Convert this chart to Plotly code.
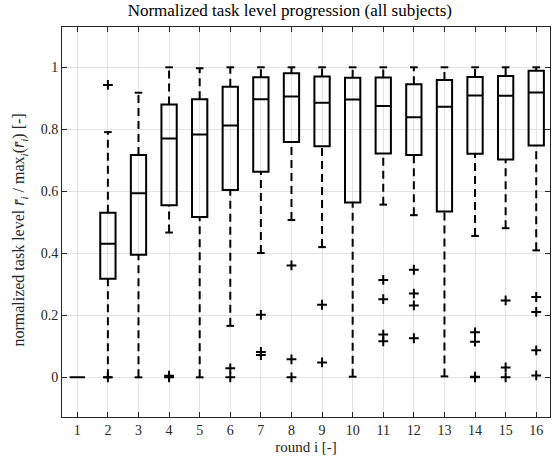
import plotly.graph_objects as go

rounds = list(range(1, 17))
q1 = [0.0, 0.318, 0.395, 0.555, 0.517, 0.6045, 0.663, 0.759, 0.745, 0.564, 0.722, 0.717, 0.5345, 0.721, 0.703, 0.748]
median = [0.0, 0.431, 0.594, 0.770, 0.783, 0.8125, 0.897, 0.906, 0.886, 0.896, 0.875, 0.839, 0.873, 0.909, 0.908, 0.919]
q3 = [0.0, 0.531, 0.717, 0.880, 0.897, 0.9375, 0.968, 0.981, 0.970, 0.966, 0.967, 0.945, 0.959, 0.969, 0.972, 0.989]
lower_whisker = [0.0, 0.0, 0.0, 0.467, 0.0, 0.166, 0.401, 0.5075, 0.420, 0.002, 0.557, 0.523, 0.003, 0.456, 0.481, 0.4095]
upper_whisker = [0.0, 0.791, 0.918, 1.0, 0.997, 1.0, 1.0, 1.0, 1.0, 1.0, 1.0, 1.0, 1.0, 1.0, 1.0, 1.0]
outliers = {
    2: [0.943, 0.0],
    4: [0.005, 0.0],
    6: [0.029, 0.0],
    7: [0.2015, 0.082, 0.072],
    8: [0.361, 0.058, 0.0],
    9: [0.234, 0.048],
    11: [0.314, 0.252, 0.138, 0.116],
    12: [0.347, 0.270, 0.232, 0.126],
    14: [0.145, 0.115, 0.002, 0.0],
    15: [0.248, 0.032, 0.0],
    16: [0.259, 0.211, 0.087, 0.006],
}
y_ticks = [0, 0.2, 0.4, 0.6, 0.8, 1]

BOX_W = 0.5
CAP_W = 0.25
INK = "black"

fig = go.Figure()

# dashed whiskers
wx, wy = [], []
for r, a, b, lo, hi in zip(rounds, q1, q3, lower_whisker, upper_whisker):
    if hi > b:
        wx += [r, r, None]
        wy += [b, hi, None]
    if lo < a:
        wx += [r, r, None]
        wy += [lo, a, None]
fig.add_trace(go.Scatter(x=wx, y=wy, mode="lines",
                         line=dict(color=INK, width=2, dash="8px,5px"),
                         hoverinfo="skip", showlegend=False))

# whisker caps
cx, cy = [], []
for r, lo, hi, a in zip(rounds, lower_whisker, upper_whisker, q1):
    if hi == lo == a:
        continue
    for v in (lo, hi):
        cx += [r - CAP_W / 2, r + CAP_W / 2, None]
        cy += [v, v, None]
fig.add_trace(go.Scatter(x=cx, y=cy, mode="lines",
                         line=dict(color=INK, width=2),
                         hoverinfo="skip", showlegend=False))

# boxes
fig.add_trace(go.Box(x=rounds, q1=q1, median=median, q3=q3,
                     lowerfence=q1, upperfence=q3,
                     width=BOX_W, whiskerwidth=0,
                     line=dict(color=INK, width=2),
                     fillcolor="rgba(255,255,255,0)",
                     boxpoints=False, showlegend=False))

# outliers
ox, oy = [], []
for r, vals in outliers.items():
    for v in vals:
        ox.append(r)
        oy.append(v)
fig.add_trace(go.Scatter(x=ox, y=oy, mode="markers",
                         marker=dict(symbol="cross-thin", size=7,
                                     line=dict(color=INK, width=2)),
                         hoverinfo="skip", showlegend=False))

FONT = "Liberation Serif"
axis_common = dict(
    showgrid=True, gridcolor="#e3e3e3", gridwidth=1,
    zeroline=False,
    showline=True, linecolor="#262626", linewidth=1, mirror="ticks",
    ticks="inside", ticklen=5, tickcolor="#262626",
    tickfont=dict(family=FONT, size=14, color="#262626"),
)

fig.update_layout(
    width=552, height=459,
    paper_bgcolor="white", plot_bgcolor="white",
    margin=dict(l=62, r=2, t=27, b=42),
    title=dict(text="Normalized task level progression (all subjects)",
               font=dict(family=FONT, size=17, color="black"),
               x=0.525, xanchor="center", y=0.99, yanchor="top"),
    xaxis=dict(range=[0.5, 16.45], tickvals=rounds,
               title=dict(text="round i [-]", standoff=4,
                          font=dict(family=FONT, size=15, color="#262626")),
               **axis_common),
    yaxis=dict(range=[-0.128, 1.13], tickvals=y_ticks, **axis_common),
    annotations=[dict(
        text="normalized task level <i>r̄<sub>i</sub></i> / max<sub><i>i</i></sub>(<i>r̄<sub>i</sub></i>) [-]",
        textangle=-90, xref="paper", yref="paper",
        x=-0.086, y=0.478, xanchor="center", yanchor="middle",
        showarrow=False,
        font=dict(family=FONT, size=16, color="#262626"),
    )],
)

fig.write_html("out.html", config={"displayModeBar": False},
               post_script="document.body.style.margin='0';document.body.style.overflow='hidden';")
